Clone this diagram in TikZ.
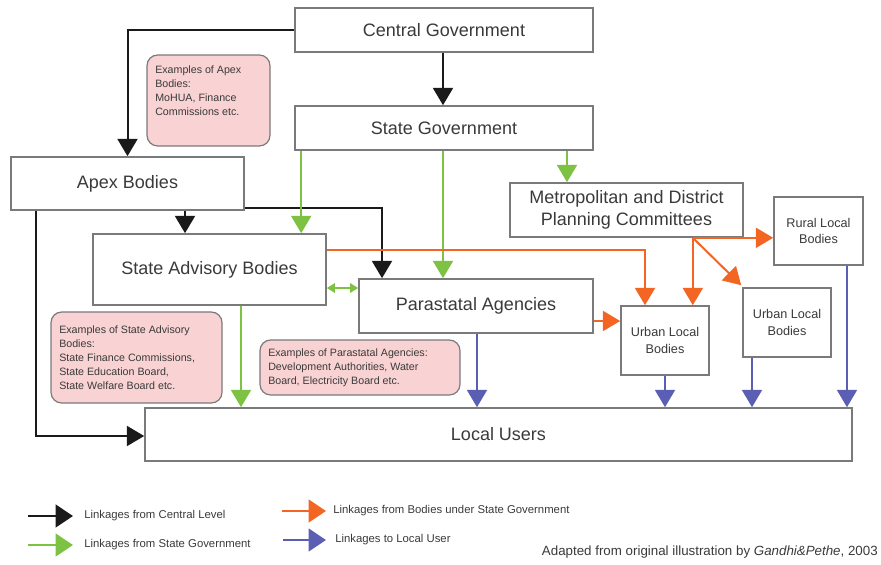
\documentclass[tikz,border=0pt]{standalone}
\usepackage{fontspec}
\setmainfont{Liberation Sans}
\usetikzlibrary{arrows.meta,calc}
\definecolor{blk}{HTML}{1A1A1A}
\definecolor{grn}{HTML}{7DC242}
\definecolor{org}{HTML}{F26522}
\definecolor{blu}{HTML}{5A5FB4}
\definecolor{pnk}{HTML}{F9D2D3}
\definecolor{brd}{HTML}{7A7A7A}
\definecolor{txt}{HTML}{3A3A3A}
\tikzset{
  box/.style={draw=brd, line width=1.2pt, fill=white, text=txt, inner sep=0pt, align=center,
    font=\fontsize{13.5}{16.5}\selectfont},
  smallbox/.style={box, font=\fontsize{9.5}{12.5}\selectfont},
  pinkbox/.style={draw=brd, line width=0.9pt, fill=pnk, rounded corners=8pt, text=txt,
    align=left, inner sep=0pt, font=\fontsize{8}{10.5}\selectfont},
  arr/.style={line width=1.5pt, -{Triangle[width=15pt,length=13pt]}},
  blkarr/.style={arr, draw=blk, color=blk},
  grnarr/.style={arr, draw=grn, color=grn},
  orgarr/.style={arr, draw=org, color=org},
  bluarr/.style={arr, draw=blu, color=blu},
  legarr/.style={-{Triangle[width=17pt,length=13pt]}},
  dblarr/.style={line width=1pt, draw=grn, color=grn, {Triangle[width=7pt,length=6pt]}-{Triangle[width=7pt,length=6pt]}},
  legtext/.style={anchor=west, text=txt, font=\fontsize{8.5}{10}\selectfont, inner sep=0pt},
}
\begin{document}
\begin{tikzpicture}[x=0.75pt,y=-0.75pt]
\useasboundingbox (0,0) rectangle (881,564);
% main boxes
\node[box, minimum width=223.5pt, minimum height=33pt] (cg) at (444,30) {Central Government};
\node[box, minimum width=223.5pt, minimum height=33pt] (sg) at (444,128) {State Government};
\node[box, minimum width=174.75pt, minimum height=39.75pt] (apex) at (127.5,183.5) {Apex Bodies};
\node[box, minimum width=174.75pt, minimum height=53.25pt] (sab) at (209.5,269.5) {State Advisory Bodies};
\node[box, minimum width=175.5pt, minimum height=40.5pt] (para) at (476,306) {Parastatal Agencies};
\node[box, minimum width=174.75pt, minimum height=40.5pt] (mdpc) at (626.5,210) {Metropolitan and District\\Planning Committees};
\node[smallbox, minimum width=66.75pt, minimum height=51pt] (rural) at (818.5,231) {Rural Local\\Bodies};
\node[smallbox, minimum width=66pt, minimum height=51.75pt] (ulb1) at (665,340.5) {Urban Local\\Bodies};
\node[smallbox, minimum width=66pt, minimum height=51.75pt] (ulb2) at (787,322.5) {Urban Local\\Bodies};
\node[box, minimum width=530.25pt, minimum height=39.75pt] (lu) at (498.5,434.5) {Local Users};
% pink example boxes
\node[pinkbox, minimum width=92.25pt, minimum height=68.25pt] (ex1) at (208.5,100.5) {};
\node[anchor=north west, align=left, text=txt, inner sep=0pt, font=\fontsize{8}{10.5}\selectfont] (ex1t) at (155,66)
  {Examples of Apex\\Bodies:\\MoHUA, Finance\\Commissions etc.};
\node[pinkbox, minimum width=128.25pt, minimum height=68.25pt] (ex2) at (136.5,357.5) {};
\node[anchor=west, align=left, text=txt, inner sep=0pt, font=\fontsize{8}{10.5}\selectfont] (ex2t) at (59,357.5)
  {Examples of State Advisory\\Bodies:\\State Finance Commissions,\\State Education Board,\\State Welfare Board etc.};
\node[pinkbox, minimum width=150pt, minimum height=41.25pt] (ex3) at (360,367.5) {};
\node[anchor=west, align=left, text=txt, inner sep=0pt, font=\fontsize{8}{10.5}\selectfont] (ex3t) at (268,367.5)
  {Examples of Parastatal Agencies:\\Development Authorities, Water\\Board, Electricity Board etc.};
% black linkages
\draw[blkarr] (cg.west) -| (apex.north);
\draw[blkarr] ($(cg.south)+(-1,0)$) coordinate (k1) -- (k1 |- sg.north);
\draw[blkarr] ($(apex.south)+(57.5,0)$) coordinate (k2) -- (k2 |- sab.north);
\draw[blkarr] ($(apex.south east)+(0,-3)$) -| ($(para.north)+(-94,0)$);
\draw[blkarr] ($(apex.south west)+(26,0)$) coordinate (k3) |- ($(lu.west)+(0,1.5)$);
% green linkages
\draw[grnarr] ($(sg.south west)+(7,0)$) coordinate (g1) -- (g1 |- sab.north);
\draw[grnarr] ($(sg.south)+(-1,0)$) coordinate (g2) -- (g2 |- para.north);
\draw[grnarr] ($(sg.south)+(123,0)$) coordinate (g3) -- (g3 |- mdpc.north);
\draw[dblarr] ($(sab.east)+(0,18.5)$) coordinate (g4) -- (g4 -| para.west);
\draw[grnarr] ($(sab.south)+(31.5,0)$) coordinate (g5) -- (g5 |- lu.north);
% orange linkages
\draw[orgarr] ($(sab.east)+(0,-19.5)$) -| ($(ulb1.north)+(-20,0)$);
\draw[orgarr] ($(para.east)+(0,15)$) coordinate (o2) -- (o2 -| ulb1.west);
\draw[orgarr] ($(mdpc.south east)+(-51,0)$) coordinate (o3) -- (o3 |- ulb1.north);
\draw[orgarr] (o3) -- (o3 -| rural.west);
\draw[orgarr] (o3) -- ($(ulb2.north west)+(-1,-2)$);
% blue linkages
\draw[bluarr] ($(para.south)+(1,0)$) coordinate (b1) -- (b1 |- lu.north);
\draw[bluarr] (ulb1.south) -- (ulb1.south |- lu.north);
\draw[bluarr] ($(ulb2.south)+(-35,0)$) coordinate (b3) -- (b3 |- lu.north);
\draw[bluarr] ($(rural.south)+(28.5,0)$) coordinate (b4) -- (b4 |- lu.north);
% legend
\coordinate (l1a) at (28,516); \coordinate (l1b) at (73,516);
\coordinate (l2a) at (28,545); \coordinate (l2b) at (73,545);
\coordinate (l3a) at (282,511); \coordinate (l3b) at (326,511);
\coordinate (l4a) at (283,540); \coordinate (l4b) at (326,540);
\draw[blkarr, legarr] (l1a) -- (l1b);
\draw[grnarr, legarr] (l2a) -- (l2b);
\draw[orgarr, legarr] (l3a) -- (l3b);
\draw[bluarr, legarr] (l4a) -- (l4b);
\node[legtext] (lt1) at (84,516) {Linkages from Central Level};
\node[legtext] (lt2) at (84,545) {Linkages from State Government};
\node[legtext] (lt3) at (333,511) {Linkages from Bodies under State Government};
\node[legtext] (lt4) at (335,540) {Linkages to Local User};
\node[anchor=east, text=txt, inner sep=0pt, font=\fontsize{10}{12}\selectfont] (src) at (878,552)
  {Adapted from original illustration by \textit{Gandhi\&Pethe}, 2003};
\end{tikzpicture}
\end{document}
